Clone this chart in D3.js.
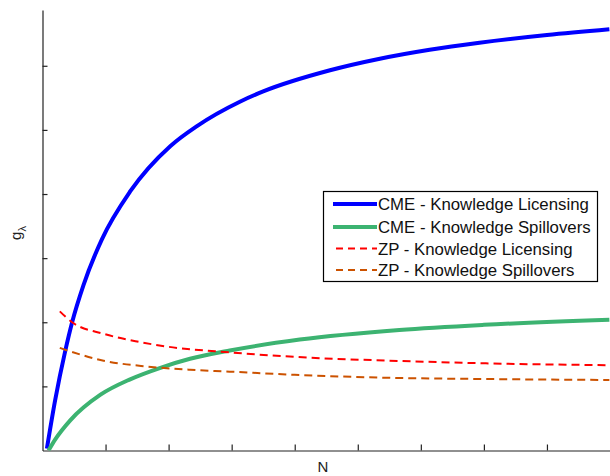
<!DOCTYPE html>
<html><head><meta charset="utf-8">
<script src="https://cdn.jsdelivr.net/npm/d3@7"></script>
<style>html,body{margin:0;padding:0;background:#fff;}svg{display:block;font-family:"Liberation Sans",Arial,sans-serif;}</style>
</head><body><svg id="c" width="610" height="476"></svg>
<script>
const xTicks = [10,20,30,40,50,60,70,80];
const yTicks = [1,2,3,4,5,6];
const seriesNames = ["CME - Knowledge Licensing","CME - Knowledge Spillovers","ZP - Knowledge Licensing","ZP - Knowledge Spillovers"];
const cmeLicensing = [[0.7,0.03],[2,0.78],[3.6,1.55],[4.7,2.0],[6.5,2.58],[9.4,3.29],[13.9,4.04],[20.3,4.75],[24.5,5.06],[31.3,5.44],[35,5.6],[45.6,5.93],[53.5,6.11],[61.4,6.25],[69.3,6.36],[80,6.48],[89.9,6.57]];
const cmeSpillovers = [[0.95,0],[2,0.17],[4.4,0.47],[9.2,0.87],[13.9,1.11],[18.7,1.29],[23.4,1.43],[29.7,1.56],[40.8,1.73],[56.6,1.88],[70,1.96],[89.9,2.04]];
const zpLicensing = [[2.74,2.17],[4.7,2.0],[9.7,1.82],[15,1.70],[19.8,1.62],[29.7,1.53],[40,1.46],[57,1.395],[70,1.36],[89.9,1.33]];
const zpSpillovers = [[2.74,1.60],[9.7,1.40],[16.6,1.31],[23.4,1.26],[29.7,1.23],[40,1.18],[57,1.13],[70,1.115],[89.9,1.10]];
const colors = ["#0000ff","#3cb371","#ff0000","#cc5200"];

const svg = d3.select("#c");
const x = d3.scaleLinear().domain([0,90]).range([42.5,610]);
const y = d3.scaleLinear().domain([0,6.87]).range([450.5,10]);

// axes
const xAxis = d3.axisBottom(x).tickValues(xTicks).tickSizeInner(-6).tickSizeOuter(0).tickFormat("");
const yAxis = d3.axisLeft(y).tickValues(yTicks).tickSizeInner(-5).tickSizeOuter(0).tickFormat("");
const gx = svg.append("g").attr("transform","translate(0,"+y(0)+")").call(xAxis);
const gy = svg.append("g").attr("transform","translate("+x(0)+",0)").call(yAxis);
[gx,gy].forEach(g=>{g.selectAll("path,line").attr("stroke","#222").attr("stroke-width",1.2);});

const line = d3.line().x(d=>x(d[0])).y(d=>y(d[1])).curve(d3.curveMonotoneX);
const data = [cmeLicensing,cmeSpillovers,zpLicensing,zpSpillovers];
const widths = [4,4,2,2];
const dashes = [null,null,"8,5","8,5"];
svg.append("defs").append("clipPath").attr("id","clip").append("rect").attr("x",x(0)).attr("y",0).attr("width",610-x(0)).attr("height",y(0));
const plot = svg.append("g").attr("clip-path","url(#clip)");
data.forEach((d,i)=>{
  plot.append("path").datum(d).attr("d",line).attr("fill","none")
    .attr("stroke",colors[i]).attr("stroke-width",widths[i])
    .attr("stroke-dasharray",dashes[i]);
});

// labels
svg.append("text").attr("x",323).attr("y",472).attr("text-anchor","middle").attr("font-size",15).attr("fill","#222").text("N");
const yl = svg.append("text").attr("transform","translate(21,233) rotate(-90)").attr("text-anchor","middle").attr("font-size",15).attr("fill","#222");
yl.append("tspan").text("g");
yl.append("tspan").attr("dy",5).attr("font-size",11).text("λ");

// legend
const lg = svg.append("g");
lg.append("rect").attr("x",323.5).attr("y",191.5).attr("width",274).attr("height",90).attr("fill","#fff").attr("stroke","#000").attr("stroke-width",1.2);
const rowY = [204,227,248.5,270];
seriesNames.forEach((n,i)=>{
  lg.append("line").attr("x1",i<2?333:336).attr("x2",377).attr("y1",rowY[i]).attr("y2",rowY[i])
    .attr("stroke",colors[i]).attr("stroke-width",widths[i]).attr("stroke-dasharray",i<2?null:"7,5");
  lg.append("text").attr("x",378).attr("y",rowY[i]).attr("dy","0.36em").attr("font-size",16.8).attr("fill","#111").text(n);
});
</script></body></html>
